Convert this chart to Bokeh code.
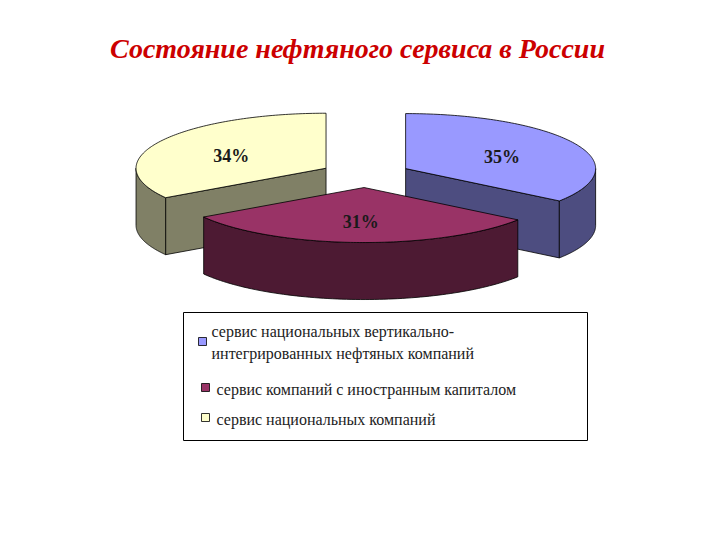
import numpy as np
from bokeh.plotting import figure
from bokeh.models import Range1d
from bokeh.core.properties import value
from bokeh.embed import file_html
from bokeh.resources import INLINE

# ---- data ----
legend_lines = [["сервис национальных вертикально-", "интегрированных нефтяных компаний"],
                ["сервис компаний с иностранным капиталом"],
                ["сервис национальных компаний"]]
values = [35, 31, 34]
labels = ["35%", "31%", "34%"]
top_colors = ["#9999FF", "#993366", "#FFFFCC"]
side_colors = ["#4D4D80", "#4D1A33", "#808066"]
title = "Состояние нефтяного сервиса в России"

FONT = value("'Liberation Serif', 'DejaVu Serif', serif")

# ---- geometry (page pixel coordinates) ----
CX, CY = 365.0, 174.0
RX, RY = 190.0, 55.0
DEPTH = 57.0
EXPLODE = 0.237
LABEL_R = 0.57

p = figure(width=704, height=524, output_backend="svg", toolbar_location=None,
           x_range=Range1d(0, 704), y_range=Range1d(524, 0), min_border=0)
p.axis.visible = False
p.grid.visible = False
p.outline_line_color = None
p.background_fill_color = "white"

total = float(sum(values))
starts = np.cumsum([0] + values[:-1]) / total * 2 * np.pi
ends = np.cumsum(values) / total * 2 * np.pi


def pt(cx, cy, th, r=1.0):
    return cx + RX * r * np.sin(th), cy - RY * r * np.cos(th)


slices = []
for i in range(len(values)):
    a, b = starts[i], ends[i]
    mid = (a + b) / 2
    cx = CX + EXPLODE * RX * np.sin(mid)
    cy = CY - EXPLODE * RY * np.cos(mid)
    slices.append((i, a, b, mid, cx, cy))

# draw order: back slices first, front slice last
order = sorted(slices, key=lambda s: -np.cos(s[3]))
for i, a, b, mid, cx, cy in order:
    # radial walls facing viewer
    for th, sgn in ((a, -1), (b, 1)):
        normal = th + sgn * np.pi / 2
        if -np.cos(normal) > 0:
            ex, ey = pt(cx, cy, th)
            xs = [cx, ex, ex, cx]
            ys = [cy, ey, ey + DEPTH, cy + DEPTH]
            p.patch(xs, ys, fill_color=side_colors[i], line_color="black", line_width=0.8)
    # outer curved wall (front half)
    lo, hi = max(a, np.pi / 2), min(b, 3 * np.pi / 2)
    if hi > lo:
        th = np.linspace(lo, hi, 80)
        x, y = pt(cx, cy, th)
        xs = np.concatenate([x, x[::-1]])
        ys = np.concatenate([y, (y + DEPTH)[::-1]])
        p.patch(xs, ys, fill_color=side_colors[i], line_color="black", line_width=0.8)
    # top face
    th = np.linspace(a, b, 120)
    x, y = pt(cx, cy, th)
    xs = np.concatenate([[cx], x])
    ys = np.concatenate([[cy], y])
    p.patch(xs, ys, fill_color=top_colors[i], line_color="black", line_width=0.8)

# percentage labels
for i, a, b, mid, cx, cy in slices:
    lx, ly = pt(cx, cy, mid, LABEL_R)
    p.text(x=[lx], y=[ly + 3], text=[labels[i]], text_align="center", text_baseline="middle",
           text_font=FONT, text_font_size="18px",
           text_font_style="bold", text_color="#1a1a1a")

# title
p.text(x=[357], y=[48], text=[title], text_align="center", text_baseline="middle",
       text_font=FONT, text_font_size="28px",
       text_font_style="bold italic", text_color="#CC0000")

# legend box
p.quad(left=[183], right=[587], top=[312], bottom=[440], fill_color="white",
       line_color="black", line_width=1)
item_y = [341, 387, 417]
sq_x = [202, 205, 205]
txt_x = [211, 216, 216]
for i in range(len(values)):
    p.scatter(x=[sq_x[i]], y=[item_y[i]], marker="square", size=8,
              fill_color=top_colors[i], line_color="black", line_width=0.8)
    lines = legend_lines[i]
    if len(lines) == 2:
        ys = [item_y[i] - 10, item_y[i] + 12]
    else:
        ys = [item_y[i] + 2]
    p.text(x=[txt_x[i]] * len(lines), y=ys, text=lines, text_align="left",
           text_baseline="middle", text_font=FONT,
           text_font_size="16px", text_color="#222222")

open("out.html", "w").write(file_html(p, INLINE))
